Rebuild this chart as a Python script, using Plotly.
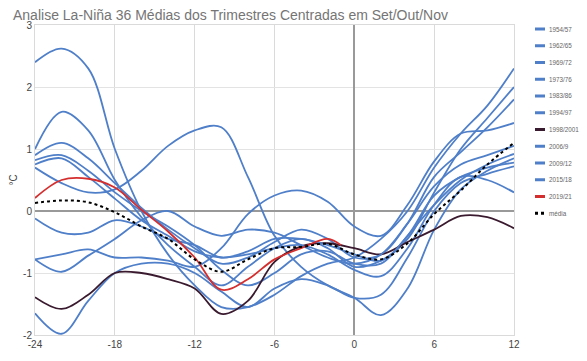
import plotly.graph_objects as go

x = [-24, -22, -20, -18, -16, -14, -12, -10, -8, -6, -4, -2, 0, 2, 4, 6, 8, 10, 12]

names = ["1954/57", "1962/65", "1969/72", "1973/76", "1983/86", "1994/97",
         "1998/2001", "2006/9", "2009/12", "2015/18", "2019/21", "média"]

s1954 = [2.40, 2.62, 2.30, 1.00, 0.00, -0.70, -1.20, -1.55, -1.55, -1.35, -1.05, -0.85, -0.75, -0.45, 0.00, 0.70, 1.25, 1.70, 2.30]
s1962 = [1.00, 1.60, 1.30, 0.50, -0.10, -0.55, -0.90, -1.20, -0.90, -0.60, -0.45, -0.60, -0.90, -0.80, -0.45, 0.30, 1.00, 1.50, 2.00]
s1969 = [0.90, 1.10, 0.85, 0.45, 0.05, -0.30, -0.60, -0.85, -0.75, -0.50, -0.30, -0.45, -0.75, -0.70, -0.20, 0.55, 0.95, 1.35, 1.80]
s1973 = [0.82, 0.90, 0.65, 0.30, 0.00, -0.25, -0.55, -0.95, -1.20, -1.00, -0.70, -0.65, -0.85, -0.85, -0.40, 0.10, 0.50, 0.75, 0.92]
s1983 = [0.70, 0.45, 0.30, 0.35, 0.65, 1.05, 1.30, 1.35, 0.55, -0.40, -0.90, -1.20, -1.40, -1.68, -1.25, -0.30, 0.35, 0.65, 0.85]
s1994 = [0.75, 0.85, 0.55, 0.20, -0.15, -0.40, -0.65, -0.75, -0.70, -0.60, -0.55, -0.70, -0.95, -1.05, -0.60, 0.10, 0.55, 0.50, 0.30]
s1998 = [-1.39, -1.58, -1.35, -1.00, -1.00, -1.10, -1.25, -1.66, -1.45, -0.82, -0.57, -0.52, -0.60, -0.70, -0.50, -0.30, -0.08, -0.10, -0.28]
s2006 = [-0.12, -0.35, -0.35, -0.15, -0.25, -0.45, -0.55, -0.75, -0.65, -0.45, -0.45, -0.55, -0.70, -0.80, -0.40, 0.25, 0.55, 0.70, 0.78]
s2009 = [-0.78, -0.70, -0.62, -0.75, -0.75, -0.80, -0.90, -0.60, -0.05, 0.25, 0.33, 0.15, -0.25, -0.40, 0.10, 0.80, 1.25, 1.30, 1.42]
s2015 = [-0.78, -0.98, -0.72, -0.45, -0.15, 0.00, -0.25, -0.40, -0.30, -0.35, -0.55, -0.75, -0.85, -0.70, -0.20, 0.40, 0.75, 0.90, 1.05]
x2019 = [-24, -22, -20, -18, -16, -14, -12, -10, -8, -6, -4, -2, -1]
s2019 = [0.21, 0.50, 0.52, 0.38, 0.02, -0.33, -0.75, -1.27, -1.10, -0.78, -0.60, -0.45, -0.55]
smedia = [0.13, 0.17, 0.14, -0.02, -0.25, -0.45, -0.78, -0.98, -0.78, -0.60, -0.58, -0.53, -0.70, -0.78, -0.52, -0.05, 0.33, 0.75, 1.10]
s_extra = [-1.65, -1.98, -1.45, -1.00, -0.85, -0.85, -1.00, -1.30, -1.55, -1.25, -1.10, -1.20, -1.40, -1.35, -0.75, 0.00, 0.45, 0.60, 0.72]

x_ticks = [-24, -18, -12, -6, 0, 6, 12]
y_ticks = [-2, -1, 0, 1, 2, 3]

BLUE = "#4f7fc9"
DARK = "#3a1a2e"
RED = "#d42e2e"
FONT = "Arial, Liberation Sans, sans-serif"

# the page body adds an 8px offset; figure is sized/placed to compensate
OFF = 8
W, H = 587 - OFF, 361 - OFF
ML, MR, MT, MB = 35 - OFF, 73, 25 - OFF, 26
PW, PH = W - ML - MR, H - MT - MB

fig = go.Figure()

series = [
    ("1954/57", x, s1954, BLUE, "solid"),
    ("1962/65", x, s1962, BLUE, "solid"),
    ("1969/72", x, s1969, BLUE, "solid"),
    ("1973/76", x, s1973, BLUE, "solid"),
    ("1983/86", x, s1983, BLUE, "solid"),
    ("1994/97", x, s1994, BLUE, "solid"),
    ("1998/2001", x, s1998, DARK, "solid"),
    ("2006/9", x, s2006, BLUE, "solid"),
    ("2009/12", x, s2009, BLUE, "solid"),
    ("2015/18", x, s2015, BLUE, "solid"),
    ("2019/21", x2019, s2019, RED, "solid"),
    ("média", x, smedia, "#000000", "dot"),
]

fig.add_trace(go.Scatter(x=x, y=s_extra, mode="lines", showlegend=False,
                         line=dict(color=BLUE, width=1.8, shape="spline", smoothing=1.0),
                         hoverinfo="skip"))

for name, xs, ys, col, dash in series:
    fig.add_trace(go.Scatter(
        x=xs, y=ys, name=name, mode="lines", showlegend=False,
        line=dict(color=col, width=2 if dash == "dot" else 1.8, dash=dash,
                  shape="spline", smoothing=1.0)))

# compact legend drawn as shapes + annotations; positions given in page pixels
def px_x(p):
    return (p - OFF - ML) / PW

def px_y(p):
    return (H - MB - (p - OFF)) / PH

shapes = []
annotations = []
for i, (name, _, _, col, dash) in enumerate(series):
    yc = 29 + i * 16.75
    shapes.append(dict(type="line", xref="paper", yref="paper",
                       x0=px_x(535), x1=px_x(545), y0=px_y(yc), y1=px_y(yc),
                       line=dict(color=col, width=3, dash=dash)))
    annotations.append(dict(text=name, xref="paper", yref="paper",
                            x=px_x(548), y=px_y(yc), xanchor="left", yanchor="middle",
                            showarrow=False, borderpad=0,
                            font=dict(family=FONT, size=6.3, color="#666666")))

fig.update_layout(
    width=W, height=H,
    margin=dict(l=ML, r=MR, t=MT, b=MB, autoexpand=False),
    paper_bgcolor="white", plot_bgcolor="white",
    font=dict(family=FONT, size=10, color="#444444"),
    title=dict(text="Analise La-Niña 36 Médias dos Trimestres Centradas em Set/Out/Nov",
               x=(13 - OFF) / W, xref="container", xanchor="left",
               y=1 - 2.5 / H, yanchor="top",
               font=dict(family=FONT, size=14, color="#757575"), pad=dict(l=0, t=0)),
    showlegend=False,
    shapes=shapes,
    annotations=annotations,
)

fig.update_xaxes(range=[-24, 12], tickvals=x_ticks, ticktext=[str(v) for v in x_ticks],
                 showgrid=True, gridcolor="#dadada", gridwidth=1,
                 zeroline=True, zerolinecolor="#999999", zerolinewidth=1.5,
                 showline=True, linecolor="#dadada", mirror=True,
                 ticks="", tickfont=dict(size=10, color="#444444"))
fig.update_yaxes(range=[-2, 3], tickvals=y_ticks, ticktext=[str(v) for v in y_ticks],
                 showgrid=True, gridcolor="#e3e3e3", gridwidth=1,
                 zeroline=True, zerolinecolor="#999999", zerolinewidth=1.5,
                 showline=True, linecolor="#dadada", mirror=True,
                 ticks="", tickfont=dict(size=10, color="#444444"),
                 title=dict(text="°C", standoff=8, font=dict(size=10, color="#444444")))

fig.write_html("out.html")
